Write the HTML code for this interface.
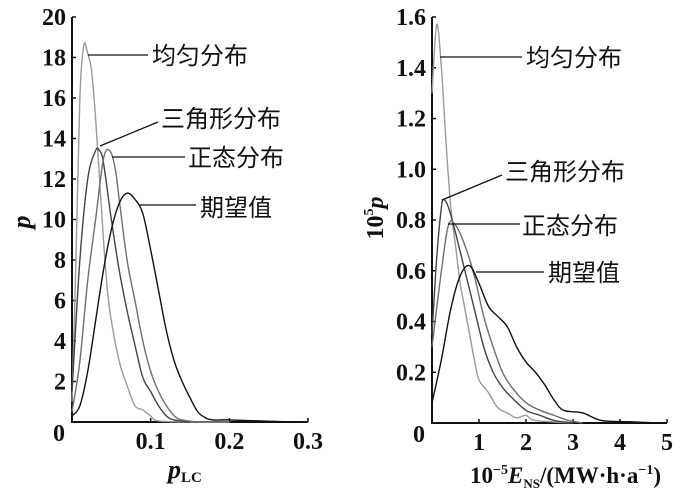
<!DOCTYPE html>
<html><head><meta charset="utf-8"><style>
body{margin:0;background:#fff}
svg text{font-family:"Liberation Serif","Noto Serif CJK SC",serif;font-weight:bold;fill:#111}
.cn{font-family:"Liberation Sans","Noto Sans CJK SC",sans-serif;font-weight:normal;font-size:24px}
</style></head><body>
<svg id="c" width="700" height="497" viewBox="0 0 700 497" xmlns="http://www.w3.org/2000/svg" style="position:absolute;left:0;top:0"></svg>
<script>
// Left panel data (p_LC vs p)
const leftXTicks=[0.1,0.2,0.3];
const leftXTickLabels=["0.1","0.2","0.3"];
const leftYTicks=[2,4,6,8,10,12,14,16,18,20];
const leftUniform=[[0,1],[0.005,8],[0.01,16],[0.015,18.6],[0.02,18.2],[0.025,17.3],[0.03,15],[0.035,12],[0.04,9],[0.045,6.5],[0.05,5],[0.06,3],[0.07,1.8],[0.08,0.8],[0.09,0.6],[0.1,0.3],[0.11,0.05],[0.15,0],[0.2,0]];
const leftTriangle=[[0,1.5],[0.01,8],[0.02,12],[0.03,13.4],[0.035,13.4],[0.04,12.8],[0.05,10],[0.06,7.5],[0.07,5.5],[0.08,3.8],[0.09,2.2],[0.1,1.5],[0.11,0.8],[0.12,0.3],[0.13,0.1],[0.15,0]];
const leftNormal=[[0,0.5],[0.01,3],[0.02,7],[0.03,10],[0.04,13],[0.048,13.4],[0.055,12.5],[0.06,11],[0.07,8],[0.08,6],[0.09,4],[0.1,2.5],[0.11,1.5],[0.12,0.8],[0.13,0.3],[0.14,0.1],[0.16,0]];
const leftExpected=[[0,0.3],[0.01,0.8],[0.02,2.5],[0.03,5],[0.04,7.5],[0.05,9.5],[0.06,10.8],[0.07,11.3],[0.08,11],[0.09,10.3],[0.1,8.5],[0.11,6.5],[0.12,4.5],[0.13,3],[0.14,2],[0.15,1.2],[0.16,0.5],[0.17,0.2],[0.18,0.1],[0.2,0.1],[0.28,0]];
// Right panel data
const rightXTicks=[1,2,3,4,5];
const rightXTickLabels=["1","2","3","4","5"];
const rightYTicks=[0.2,0.4,0.6,0.8,1.0,1.2,1.4,1.6];
const rightYTickLabels=["0.2","0.4","0.6","0.8","1.0","1.2","1.4","1.6"];
const rightUniform=[[0,1.3],[0.1,1.57],[0.2,1.4],[0.3,1.1],[0.4,0.85],[0.5,0.7],[0.6,0.55],[0.7,0.45],[0.8,0.35],[0.9,0.25],[1.0,0.17],[1.2,0.12],[1.4,0.06],[1.6,0.04],[1.8,0.02],[2.0,0.03],[2.2,0.01],[3,0]];
const rightTriangle=[[0,0.35],[0.1,0.65],[0.2,0.85],[0.25,0.88],[0.35,0.85],[0.5,0.75],[0.7,0.6],[0.9,0.45],[1.1,0.3],[1.3,0.2],[1.5,0.14],[1.7,0.1],[2.0,0.05],[2.3,0.03],[2.6,0.01],[3,0]];
const rightNormal=[[0,0.3],[0.2,0.6],[0.35,0.78],[0.5,0.78],[0.7,0.7],[0.9,0.58],[1.1,0.42],[1.3,0.3],[1.5,0.2],[1.7,0.14],[2.0,0.08],[2.3,0.05],[2.6,0.03],[2.9,0.01],[3.2,0]];
const rightExpected=[[0,0.08],[0.2,0.25],[0.4,0.45],[0.6,0.58],[0.8,0.62],[1.0,0.55],[1.2,0.46],[1.4,0.42],[1.6,0.38],[1.8,0.3],[2.0,0.24],[2.2,0.2],[2.4,0.15],[2.6,0.09],[2.8,0.05],[3.2,0.04],[3.6,0.01],[4.2,0.005],[4.8,0]];

const svg=document.getElementById('c');
const NS='http://www.w3.org/2000/svg';
function mk(tag,attrs,parent){const e=document.createElementNS(NS,tag);for(const k in attrs)e.setAttribute(k,attrs[k]);(parent||svg).appendChild(e);return e;}
function smooth(pts){
  let d='M'+pts[0][0]+','+pts[0][1];
  for(let i=0;i<pts.length-1;i++){
    const p0=pts[Math.max(0,i-1)],p1=pts[i],p2=pts[i+1],p3=pts[Math.min(pts.length-1,i+2)];
    const c1=[p1[0]+(p2[0]-p0[0])/6,p1[1]+(p2[1]-p0[1])/6];
    const c2=[p2[0]-(p3[0]-p1[0])/6,p2[1]-(p3[1]-p1[1])/6];
    d+=` C${c1[0]},${c1[1]} ${c2[0]},${c2[1]} ${p2[0]},${p2[1]}`;
  }
  return d;
}

function panel(o){
  const g=mk('g',{});
  
  
  const sx=v=>o.x0+(v-o.xmin)/(o.xmax-o.xmin)*(o.x1-o.x0);
  const sy=v=>o.y0-(v/o.ymax)*(o.y0-o.y1);
  const ax=mk('path',{d:`M${o.x0},${o.y1} V${o.y0} H${o.x1}`,fill:'none',stroke:'#111','stroke-width':2},g);
  
  
  o.xt.forEach((v,i)=>{
    mk('line',{x1:sx(v),x2:sx(v),y1:o.y0,y2:o.y0-4,stroke:'#111','stroke-width':1.5},g);
    const t=mk('text',{x:sx(v),y:o.y0+27,'text-anchor':'middle','font-size':24},g);
    t.textContent=o.xl[i];
    
    
  });
  const z=mk('text',{x:o.x0-7,y:o.y0+19,'text-anchor':'end','font-size':24},g);z.textContent='0';
  
  
  o.yt.forEach((v,i)=>{
    mk('line',{x1:o.x0,x2:o.x0+4,y1:sy(v),y2:sy(v),stroke:'#111','stroke-width':1.5},g);
    const t=mk('text',{x:o.x0-6,y:sy(v)+8,'text-anchor':'end','font-size':24},g);
    t.textContent=o.yl[i];
    
    
  });
  o.series.forEach(s=>{
    const p=mk('path',{d:smooth(s.d.map(q=>[sx(q[0]),sy(q[1])])),fill:'none',stroke:s.c,'stroke-width':1.4,'stroke-linejoin':'round'},g);
    
    
  });
  o.labels.forEach(l=>{
    mk('line',{x1:l.l[0],y1:l.l[1],x2:l.l[2],y2:l.l[3],stroke:'#111','stroke-width':1.3},g);
    const t=mk('text',{x:l.x,y:l.y,'class':'cn'},g);
    t.textContent=l.t;
    
    
  });
}

panel({name:'left-panel',x0:72,x1:308,y0:422,y1:17,xmin:0,xmax:0.3,ymax:20,
  xt:leftXTicks,xl:leftXTickLabels,yt:leftYTicks,yl:leftYTicks.map(String),
  series:[{d:leftUniform,c:'#9a9a9a',n:'uniform-curve'},{d:leftTriangle,c:'#444',n:'triangle-curve'},{d:leftNormal,c:'#6e6e6e',n:'normal-curve'},{d:leftExpected,c:'#111',n:'expected-curve'}],
  labels:[{t:'均匀分布',x:152,y:64,l:[88,55,148,55]},{t:'三角形分布',x:161,y:127,l:[100,146,158,122]},{t:'正态分布',x:188,y:166,l:[112,157,185,157]},{t:'期望值',x:200,y:216,l:[140,205,196,205]}]});

panel({name:'right-panel',x0:432,x1:667,y0:423,y1:17,xmin:0,xmax:5,ymax:1.6,
  xt:rightXTicks,xl:rightXTickLabels,yt:rightYTicks,yl:rightYTickLabels,
  series:[{d:rightUniform,c:'#9a9a9a',n:'uniform-curve'},{d:rightTriangle,c:'#444',n:'triangle-curve'},{d:rightNormal,c:'#6e6e6e',n:'normal-curve'},{d:rightExpected,c:'#111',n:'expected-curve'}],
  labels:[{t:'均匀分布',x:526,y:66,l:[440,57,522,57]},{t:'三角形分布',x:505,y:180,l:[442,200,502,175]},{t:'正态分布',x:522,y:234,l:[448,224,520,224]},{t:'期望值',x:548,y:281,l:[476,272,544,272]}]});
</script>
<div style="position:absolute;left:0;top:0;width:700px;height:497px;pointer-events:none">
<svg width="700" height="497" xmlns="http://www.w3.org/2000/svg">
<text transform="translate(30,222) rotate(-90)" text-anchor="middle" font-size="26" font-style="italic" style="font-family:'Liberation Serif',serif;font-weight:bold">p</text>
<text x="168" y="478" font-size="26" style="font-family:'Liberation Serif',serif;font-weight:bold"><tspan font-style="italic">p</tspan><tspan font-size="15" dy="4">LC</tspan></text>
<text transform="translate(383,218) rotate(-90)" text-anchor="middle" font-size="24" style="font-family:'Liberation Serif',serif;font-weight:bold">10<tspan font-size="14" dy="-10">5</tspan><tspan font-style="italic" dy="10">p</tspan></text>
<text x="470" y="483" font-size="23" style="font-family:'Liberation Serif',serif;font-weight:bold">10<tspan font-size="14" dy="-9">−5</tspan><tspan font-style="italic" dy="9">E</tspan><tspan font-size="13" dy="5">NS</tspan><tspan dy="-5">/(MW·h·a</tspan><tspan font-size="14" dy="-9">−1</tspan><tspan dy="9">)</tspan></text>
</svg></div>
</body></html>
